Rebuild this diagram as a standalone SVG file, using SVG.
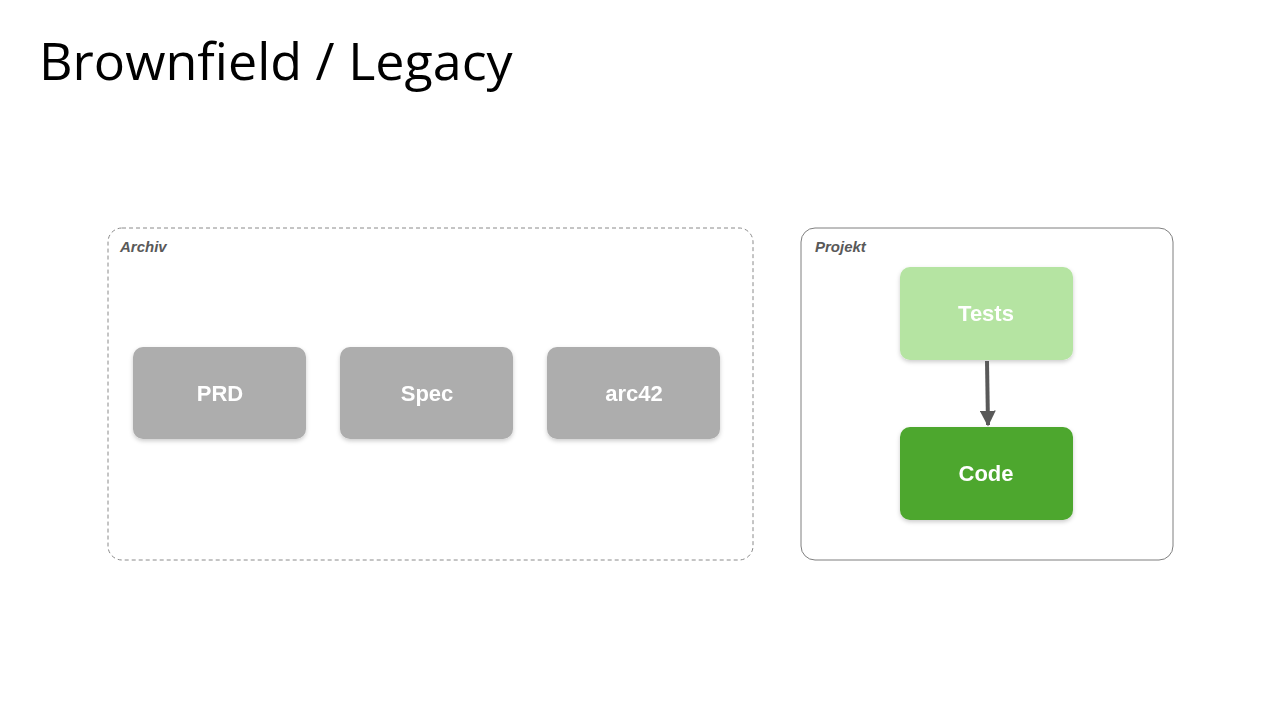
<svg xmlns="http://www.w3.org/2000/svg" width="1280" height="720" viewBox="0 0 1280 720">
<style>
.lbl{font-family:"Liberation Sans",Arial,sans-serif;font-weight:bold;font-size:22px;fill:#fff;text-anchor:middle}
.cap{font-family:"Liberation Sans",Arial,sans-serif;font-weight:bold;font-style:italic;font-size:15px;fill:#595959}
.node{filter:url(#sh)}
</style>
<defs>
<filter id="sh" x="-10%" y="-10%" width="120%" height="130%"><feDropShadow dx="0" dy="2" stdDeviation="2" flood-color="#000" flood-opacity="0.2"/></filter>
<marker id="ah" viewBox="0 0 10 10" refX="9" refY="5" markerWidth="4" markerHeight="4" orient="auto"><path d="M0,0L10,5L0,10z" fill="#595959"/></marker>
</defs>
<rect width="1280" height="720" fill="#fff"/>
<text x="39" y="80" font-family="'Open Sans','Liberation Sans',sans-serif" font-size="52" fill="#000">Brownfield / Legacy</text>
<g id="archiv"><rect x="108" y="228" width="645" height="332" rx="14" fill="none" stroke="#8a8a8a" stroke-dasharray="4 3"/><text class="cap" x="120" y="252">Archiv</text></g>
<g id="projekt"><rect x="801" y="228" width="372" height="332" rx="14" fill="none" stroke="#7f7f7f"/><text class="cap" x="815" y="252">Projekt</text></g>
<g id="prd" class="node"><rect x="133" y="347" width="173" height="92" rx="10" fill="#adadad"/><text class="lbl" x="220" y="401">PRD</text></g>
<g id="spec" class="node"><rect x="340" y="347" width="173" height="92" rx="10" fill="#adadad"/><text class="lbl" x="427" y="401">Spec</text></g>
<g id="arc42" class="node"><rect x="547" y="347" width="173" height="92" rx="10" fill="#adadad"/><text class="lbl" x="634" y="401">arc42</text></g>
<g id="tests" class="node"><rect x="900" y="267" width="173" height="93" rx="10" fill="#b5e4a2"/><text class="lbl" x="986" y="321">Tests</text></g>
<g id="code" class="node"><rect x="900" y="427" width="173" height="93" rx="10" fill="#4ea72e"/><text class="lbl" x="986" y="481">Code</text></g>
<g id="connectors"><line x1="987" y1="361" x2="988" y2="425" stroke="#595959" stroke-width="4" marker-end="url(#ah)"/></g>
</svg>
